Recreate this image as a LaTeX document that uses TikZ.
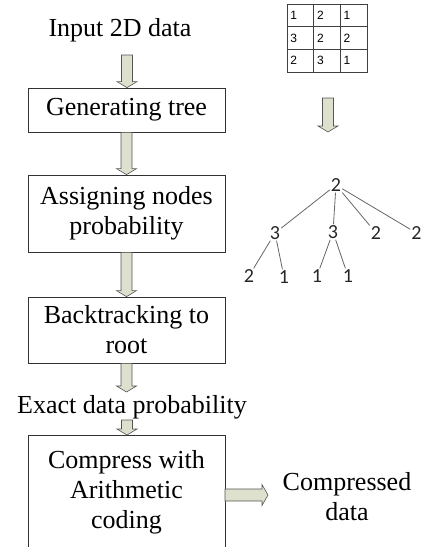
\documentclass[tikz,border=0pt]{standalone}
\usepackage{fontspec}
\setmainfont{Liberation Serif}
\newfontfamily\cellfont{Liberation Sans}
\newfontfamily\treefont{Carlito}
\usetikzlibrary{calc}
\definecolor{arrowfill}{RGB}{220,224,204}
\definecolor{arrowline}{RGB}{85,85,85}

\begin{document}
\begin{tikzpicture}[x=1pt,y=-1pt]
    \tikzstyle{box}=[draw=black!80,line width=0.8pt,minimum width=197pt,align=center,inner xsep=2pt,font=\fontsize{26}{30}\selectfont];
    \tikzstyle{txt}=[align=center,font=\fontsize{26}{30}\selectfont];
    \tikzstyle{cell}=[draw=black!75,line width=0.7pt,minimum height=22.7pt,text width=20pt,inner xsep=3.3pt,align=left,font=\cellfont\fontsize{12}{12}\selectfont];
    \tikzstyle{leaf}=[inner sep=1pt,text=black!85,font=\treefont\fontsize{20}{20}\selectfont];
    \tikzstyle{fatdown}=[draw=arrowline,fill=arrowfill,line width=0.6pt,
      to path={let \p1=(\tikztostart), \p2=(\tikztotarget) in
        (\x1-5.5pt,\y1) -- (\x1+5.5pt,\y1) -- (\x1+5.5pt,\y2+6pt) -- (\x1+10pt,\y2+6pt)
        -- (\x1,\y2) -- (\x1-10pt,\y2+6pt) -- (\x1-5.5pt,\y2+6pt) -- cycle}];
    \tikzstyle{fatright}=[draw=arrowline,fill=arrowfill,line width=0.6pt,
      to path={let \p1=(\tikztostart), \p2=(\tikztotarget) in
        (\x1,\y1+6pt) -- (\x2-6pt,\y1+6pt) -- (\x2-6pt,\y1+10.5pt) -- (\x2,\y1)
        -- (\x2-6pt,\y1-10.5pt) -- (\x2-6pt,\y1-6pt) -- (\x1,\y1-6pt) -- cycle}];
    \useasboundingbox (0,0) rectangle (422,547);

    \node (in) [txt] at (120,30) {Input 2D data};
    \node (gen) [box,minimum height=44pt] at (126.5,110) {Generating tree};
    \node (prob) [box,minimum height=77pt] at (126.5,213.5) {Assigning nodes\\probability};
    \node (back) [box,minimum height=66pt] at (126.5,330) {Backtracking to\\root};
    \node (exact) [txt] at (132,407) {Exact data probability};
    \node (comp) [box,anchor=north,inner ysep=15pt,text depth=45pt] at (126.5,435) {Compress with\\Arithmetic\\coding};
    \node (out) [txt] at (347,497) {Compressed\\data};

    \coordinate (a0) at (127,55);
    \coordinate (a4) at (127,392);
    \coordinate (a5) at (127,420);
    \coordinate (r0) at (225,495);
    \coordinate (r1) at (268,495);
    \draw[fatdown] (a0) to (gen.north);
    \draw[fatdown] (gen.south) to (prob.north);
    \draw[fatdown] (prob.south) to (back.north);
    \draw[fatdown] (back.south) to (a4);
    \draw[fatdown] (a5) to (comp.north);
    \draw[fatright] (r0) to (r1);

    \foreach \r/\a/\b/\c in {1/1/2/1,2/3/2/2,3/2/3/1} {
      \node (m\r1) [cell] at (300.3,{-7.4+22.7*\r}) {\a};
      \node (m\r2) [cell] at (327,{-7.4+22.7*\r}) {\b};
      \node (m\r3) [cell] at (353.7,{-7.4+22.7*\r}) {\c};
    }
    \coordinate (t0) at (328,98);
    \coordinate (t1) at (328,132);
    \draw[fatdown] (t0) to (t1);

    \node (r) [leaf] at (336,185) {2};
    \node (c1) [leaf] at (275,233) {3};
    \node (c2) [leaf] at (333,232) {3};
    \node (c3) [leaf] at (376,233) {2};
    \node (c4) [leaf] at (416.5,233) {2};
    \node (g1) [leaf] at (249,276) {2};
    \node (g2) [leaf] at (284,277) {1};
    \node (g3) [leaf] at (317,276) {1};
    \node (g4) [leaf] at (348,276) {1};

    \path[draw=black!60,line width=0.8pt] (r) edge (c1) edge (c2) edge (c3) edge (c4)
    (c1) edge (g1) edge (g2) (c2) edge (g3) edge (g4);
  \end{tikzpicture}
\end{document}
